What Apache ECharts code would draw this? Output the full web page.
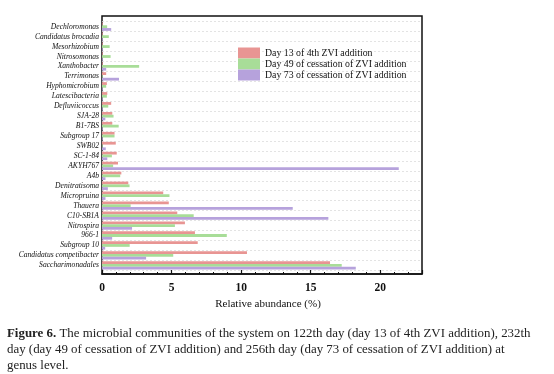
<!DOCTYPE html>
<html>
<head>
<meta charset="utf-8">
<script src="https://cdn.jsdelivr.net/npm/echarts@6/dist/echarts.min.js"></script>
<style>
html,body{margin:0;padding:0;background:#fff;}
#chart{width:554px;height:374px;}
</style>
</head>
<body>
<div id="chart"></div>
<script>
// categories, top to bottom
var categories = ["Dechloromonas","Candidatus brocadia","Mesorhizobium","Nitrosomonas","Xanthobacter","Terrimonas","Hyphomicrobium","Latescibacteria","Defluviicoccus","SJA-28","B1-7BS","Subgroup 17","SWB02","SC-1-84","AKYH767","A4b","Denitratisoma","Micropruina","Thauera","C10-SB1A","Nitrospira","966-1","Subgroup 10","Candidatus competibacter","Saccharimonadales"];
var seriesNames = ["Day 13 of 4th ZVI addition","Day 49 of cessation of ZVI addition","Day 73 of cessation of ZVI addition"];
var day13 = [0.05,0.05,0.05,0.05,0.05,0.30,0.35,0.38,0.66,0.74,0.74,0.90,0.99,1.06,1.15,1.39,1.89,4.40,4.80,5.41,5.96,6.68,6.88,10.42,16.39];
var day49 = [0.37,0.49,0.55,0.62,2.67,0.05,0.30,0.35,0.45,0.83,1.20,0.90,0.05,0.71,0.80,1.31,1.98,4.85,2.06,6.59,5.24,8.97,1.99,5.12,17.23];
var day73 = [0.66,0.05,0.05,0.05,0.30,1.22,0.05,0.05,0.05,0.24,0.05,0.05,0.27,0.38,21.33,0.25,0.42,0.25,13.71,16.27,2.16,0.73,0.23,3.17,18.24];
var xTicks = {min:0, max:23, interval:5};
var colors = ["#E89593","#A8DD98","#B6A2DC"];

var chart = echarts.init(document.getElementById('chart'), null, {renderer:'canvas'});
var serif = "'Liberation Serif','Times New Roman',serif";
var series = [day13, day49, day73].map(function(d,i){
  return {name:seriesNames[i], type:'bar', xAxisIndex:1, yAxisIndex:1, data:d,
    barGap:'0%', barCategoryGap:'16%', itemStyle:{color:colors[i]}, silent:true};
});
chart.setOption({
  animation:false,
  color:colors,
  grid:[
    {left:102, top:16, width:320, height:258, show:true, borderColor:'#111', borderWidth:1.5, containLabel:false},
    {left:102, top:21.7, width:320, height:248.6, containLabel:false}
  ],
  xAxis:[
    {gridIndex:0, type:'value', min:xTicks.min, max:xTicks.max, interval:xTicks.interval,
     axisLine:{show:true, lineStyle:{color:'#111', width:1.5}},
     axisTick:{show:true, inside:true, length:4, lineStyle:{color:'#111', width:1.2}},
     minorTick:{show:true, splitNumber:5, length:2, lineStyle:{color:'#111', width:1}},
     splitLine:{show:false},
     axisLabel:{color:'#111', fontFamily:serif, fontWeight:'bold', fontSize:11.5, margin:8,
       formatter:function(v){return v>20?'':v;}},
     name:'Relative abundance (%)', nameLocation:'middle', nameGap:17,
     nameTextStyle:{color:'#111', fontFamily:serif, fontSize:11, padding:[0,0,0,12]}},
    {gridIndex:1, type:'value', min:xTicks.min, max:xTicks.max, show:false, splitLine:{show:false}}
  ],
  yAxis:[
    {gridIndex:0, type:'value', show:false, splitLine:{show:false}},
    {gridIndex:1, type:'category', inverse:true, data:categories,
     axisLine:{show:false}, axisTick:{show:false},
     splitLine:{show:true, lineStyle:{color:'#dcdcdc', type:[2,2], width:0.8}},
     axisLabel:{color:'#111', fontFamily:serif, fontStyle:'italic', fontSize:7.6, margin:3, interval:0}}
  ],
  legend:{orient:'vertical', left:233, top:42.5, itemWidth:22, itemHeight:11, itemGap:0,
    icon:'rect', data:seriesNames,
    textStyle:{color:'#111', fontFamily:serif, fontSize:9.8}},
  series:series,
  graphic:[
    {type:'text', left:7, top:327, style:{text:'{b|Figure 6.} The microbial communities of the system on 122th day (day 13 of 4th ZVI addition), 232th',
      font:'12.9px '+serif, fill:'#222', rich:{b:{fontWeight:'bold', fontFamily:serif, fontSize:12.9, fill:'#222'}}}},
    {type:'text', left:7, top:343, style:{text:'day (day 49 of cessation of ZVI addition) and 256th day (day 73 of cessation of ZVI addition) at', font:'12.9px '+serif, fill:'#222'}},
    {type:'text', left:7, top:359, style:{text:'genus level.', font:'12.9px '+serif, fill:'#222'}}
  ]
});
</script>
</body>
</html>
